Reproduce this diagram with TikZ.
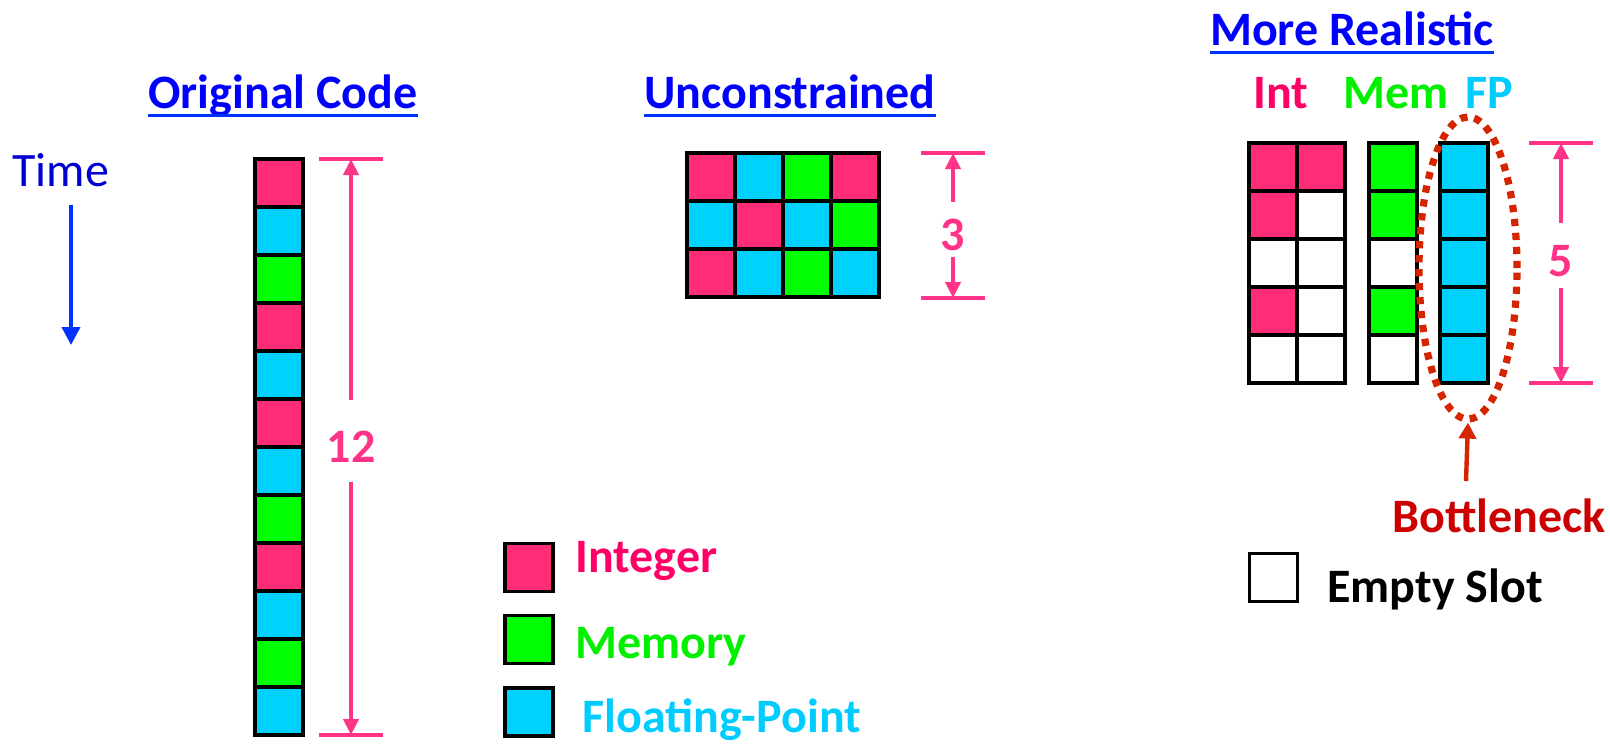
\documentclass[tikz,border=0pt]{standalone}
\usepackage{fontspec}
\setmainfont{Carlito}
\usepackage{tikz}
\usetikzlibrary{arrows.meta,positioning,shapes.geometric}

\definecolor{intc}{RGB}{255,44,120}
\definecolor{memc}{RGB}{0,255,0}
\definecolor{fpc}{RGB}{0,210,255}
\definecolor{inttext}{RGB}{255,0,102}
\definecolor{memtext}{RGB}{0,240,0}
\definecolor{fptext}{RGB}{0,204,255}
\definecolor{titleblue}{RGB}{0,0,255}
\definecolor{lineblue}{RGB}{0,50,255}
\definecolor{timeblue}{RGB}{0,0,210}
\definecolor{dimpink}{RGB}{255,51,136}
\definecolor{neckred}{RGB}{204,0,0}
\definecolor{dotred}{RGB}{212,36,0}

\begin{document}
\begin{tikzpicture}[
			x=0.5pt, y=-0.5pt,
			node distance=0pt and 0pt,
			cell/.style={draw,line width=1.6pt,minimum size=24pt,inner sep=0pt,outer sep=0pt},
			lab/.style={inner sep=0pt,anchor=base west,font=\bfseries\fontsize{24}{28}\selectfont},
			title/.style={lab,anchor=base,text=titleblue},
			uline/.style={lineblue,line width=1.5pt},
			dimbar/.style={dimpink,line width=2pt},
			dimarrow/.style={-{Triangle[length=8pt,width=7.5pt]},dimpink,line width=2pt},
			dimlabel/.style={lab,anchor=center,text=dimpink,text height=21pt,text depth=0pt},
			timearrow/.style={-{Triangle[length=9pt,width=9pt]},lineblue,line width=2pt},
			neckarrow/.style={-{Triangle[length=8pt,width=8.5pt]},dotred,line width=2.2pt}
			]
			\useasboundingbox (0,0) rectangle (1610,744);

			% titles
			\node[title] (tOrig) at (283,108) {Original Code};
			\node[title] (tFree) at (790,108) {Unconstrained};
			\node[title] (tReal) at (1352,45) {More Realistic};
			\draw[uline] ([yshift=-3.5pt]tOrig.base west) -- ([yshift=-3.5pt]tOrig.base east);
			\draw[uline] ([yshift=-3.5pt]tFree.base west) -- ([yshift=-3.5pt]tFree.base east);
			\draw[uline] ([yshift=-3.5pt]tReal.base west) -- ([yshift=-3.5pt]tReal.base east);

			% time axis
			\node[lab,font=\fontsize{24}{28}\selectfont,text=timeblue] (time) at (12,186) {Time};
			\coordinate (tmTop) at (71,205);
			\coordinate (tmBot) at (71,345);
			\draw[timearrow] (tmTop) -- (tmBot);

			% original code, one per cycle
			\node[cell,fill=intc] (o1) at (279,183) {};
			\node[cell,fill=fpc,below=of o1] (o2) {};
			\node[cell,fill=memc,below=of o2] (o3) {};
			\node[cell,fill=intc,below=of o3] (o4) {};
			\node[cell,fill=fpc,below=of o4] (o5) {};
			\node[cell,fill=intc,below=of o5] (o6) {};
			\node[cell,fill=fpc,below=of o6] (o7) {};
			\node[cell,fill=memc,below=of o7] (o8) {};
			\node[cell,fill=intc,below=of o8] (o9) {};
			\node[cell,fill=fpc,below=of o9] (o10) {};
			\node[cell,fill=memc,below=of o10] (o11) {};
			\node[cell,fill=fpc,below=of o11] (o12) {};

			\coordinate (d12a) at (319,159);
			\coordinate (d12b) at (383,159);
			\coordinate (d12c) at (319,735);
			\coordinate (d12d) at (383,735);
			\draw[dimbar] (d12a) -- (d12b);
			\draw[dimbar] (d12c) -- (d12d);
			\node[dimlabel,minimum height=41pt] (n12) at (351,441) {12};
			\draw[dimarrow] (n12) -- (n12 |- d12a);
			\draw[dimarrow] (n12) -- (n12 |- d12c);

			% unconstrained, four per cycle
			\node[cell,fill=intc] (u11) at (711,177) {};
			\node[cell,fill=fpc,right=of u11] (u12) {};
			\node[cell,fill=memc,right=of u12] (u13) {};
			\node[cell,fill=intc,right=of u13] (u14) {};
			\node[cell,fill=fpc,below=of u11] (u21) {};
			\node[cell,fill=intc,right=of u21] (u22) {};
			\node[cell,fill=fpc,right=of u22] (u23) {};
			\node[cell,fill=memc,right=of u23] (u24) {};
			\node[cell,fill=intc,below=of u21] (u31) {};
			\node[cell,fill=fpc,right=of u31] (u32) {};
			\node[cell,fill=memc,right=of u32] (u33) {};
			\node[cell,fill=fpc,right=of u33] (u34) {};

			\coordinate (d3a) at (921,153);
			\coordinate (d3b) at (985,153);
			\coordinate (d3c) at (921,298);
			\coordinate (d3d) at (985,298);
			\draw[dimbar] (d3a) -- (d3b);
			\draw[dimbar] (d3c) -- (d3d);
			\node[dimlabel,minimum height=27.5pt] (n3) at (953,229.5) {3};
			\draw[dimarrow] (n3) -- (n3 |- d3a);
			\draw[dimarrow] (n3) -- (n3 |- d3c);

			% more realistic: two int, one mem, one fp unit
			\node[lab,text=inttext] (lInt) at (1253,108) {Int};
			\node[lab,text=memtext] (lMem) at (1343,108) {Mem};
			\node[lab,text=fptext] (lFP) at (1465,108) {FP};

			\node[cell,fill=intc] (i11) at (1273,167) {};
			\node[cell,fill=intc,right=of i11] (i12) {};
			\node[cell,fill=intc,below=of i11] (i21) {};
			\node[cell,fill=white,right=of i21] (i22) {};
			\node[cell,fill=white,below=of i21] (i31) {};
			\node[cell,fill=white,right=of i31] (i32) {};
			\node[cell,fill=intc,below=of i31] (i41) {};
			\node[cell,fill=white,right=of i41] (i42) {};
			\node[cell,fill=white,below=of i41] (i51) {};
			\node[cell,fill=white,right=of i51] (i52) {};

			\node[cell,fill=memc,right=12pt of i12] (m1) {};
			\node[cell,fill=memc,below=of m1] (m2) {};
			\node[cell,fill=white,below=of m2] (m3) {};
			\node[cell,fill=memc,below=of m3] (m4) {};
			\node[cell,fill=white,below=of m4] (m5) {};

			\node[cell,fill=fpc,right=11.5pt of m1] (f1) {};
			\node[cell,fill=fpc,below=of f1] (f2) {};
			\node[cell,fill=fpc,below=of f2] (f3) {};
			\node[cell,fill=fpc,below=of f3] (f4) {};
			\node[cell,fill=fpc,below=of f4] (f5) {};

			\coordinate (d5a) at (1529,143);
			\coordinate (d5b) at (1593,143);
			\coordinate (d5c) at (1529,383);
			\coordinate (d5d) at (1593,383);
			\draw[dimbar] (d5a) -- (d5b);
			\draw[dimbar] (d5c) -- (d5d);
			\node[dimlabel,minimum height=32.5pt] (n5) at (1561,255.5) {5};
			\draw[dimarrow] (n5) -- (n5 |- d5a);
			\draw[dimarrow] (n5) -- (n5 |- d5c);

			% bottleneck
			\node[ellipse,draw=dotred,line width=3.6pt,dash pattern=on 3.6pt off 3.4pt,minimum width=49pt,minimum height=151pt,inner sep=0pt] (neck) at (1468,268) {};
			\node[lab,text=neckred] (bneck) at (1392,532) {Bottleneck};
			\coordinate (neckTail) at (1466,481);
			\draw[neckarrow] (neckTail) -- (neck.south);

			% legend
			\node[cell,fill=white] (kEmpty) at (1273.5,577.5) {};
			\node[lab] (lEmpty) at (1327,602) {Empty Slot};
			\node[cell,fill=intc] (kInt) at (529,567.5) {};
			\node[cell,fill=memc] (kMem) at (529,639.5) {};
			\node[cell,fill=fpc] (kFP) at (529,712) {};
			\node[lab,text=inttext] (lInteger) at (575,572) {Integer};
			\node[lab,text=memtext] (lMemory) at (575,658) {Memory};
			\node[lab,text=fptext] (lFloat) at (582,732) {Floating-Point};
		\end{tikzpicture}
\end{document}
